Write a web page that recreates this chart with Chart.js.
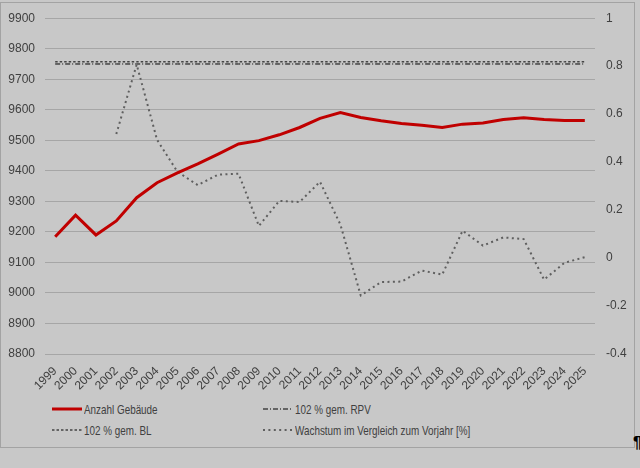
<!DOCTYPE html>
<html>
<head>
<meta charset="utf-8">
<script src="https://cdn.jsdelivr.net/npm/chart.js@4.4.1/dist/chart.umd.min.js"></script>
<style>
  html, body { margin: 0; padding: 0; background: #c8c8c8; }
  #wrap { position: relative; width: 640px; height: 468px; overflow: hidden; }
  #frame { position: absolute; left: 0; top: 2px; width: 633px; height: 444px; border: 1px solid #a3a3a3; }
  #graphCanvas { position: absolute; left: 0; top: 0; }
  .leg { position: absolute; height: 16px; display: flex; align-items: center; white-space: nowrap; }
  .leg svg { margin-right: 2px; }
  .leg span { display: inline-block; font-family: "Liberation Sans", Arial, sans-serif; font-size: 13px;
              color: #404040; transform: scaleX(0.76); transform-origin: left center; }
  #pil { position: absolute; left: 633px; top: 434px; font: bold 16px "Liberation Sans", Arial, sans-serif; color: #000; }
</style>
</head>
<body>
<div id="wrap">
  <div id="frame"></div>
  <canvas id="graphCanvas" width="640" height="400"></canvas>
  <div id="legend"></div>
  <span id="pil">¶</span>
</div>
<script>
// Jahre
const years = ['1999','2000','2001','2002','2003','2004','2005','2006','2007','2008','2009','2010','2011',
               '2012','2013','2014','2015','2016','2017','2018','2019','2020','2021','2022','2023','2024','2025'];

// Anzahl Gebäude (linke Achse)
const gebaeude = [9184, 9255, 9190, 9236, 9312, 9361, 9393, 9423, 9455, 9488, 9499, 9518, 9542,
                  9572, 9591, 9575, 9564, 9555, 9549, 9542, 9553, 9557, 9568, 9574, 9568, 9565, 9565];

// 102 % Linien
const rpv = years.map(() => 9750);
const bl = years.map(() => 9757);

// Wachstum im Vergleich zum Vorjahr [%] (rechte Achse)
const wachstum = [null, null, null, 0.517, 0.807, 0.493, 0.36, 0.304, 0.348, 0.352, 0.134, 0.238, 0.234,
                  0.318, 0.14, -0.156, -0.10, -0.098, -0.052, -0.069, 0.114, 0.052, 0.086, 0.079, -0.09, -0.02, 0.004];

// Achsenbereiche
const leftMin = 8800, leftMax = 9900, leftStep = 100;
const rightMin = -0.4, rightMax = 1, rightStep = 0.2;

const tickFont = { family: '"Liberation Sans", Arial, sans-serif', size: 12 };
const tickColor = '#404040';

const ctx = document.getElementById('graphCanvas').getContext('2d');
const chart = new Chart(ctx, {
    type: 'line',
    data: {
        labels: years,
        datasets: [
            { label: 'Anzahl Gebäude', data: gebaeude, yAxisID: 'y', borderColor: '#c00000',
              borderWidth: 3, borderDash: [], order: 0 },
            { label: '102 % gem. RPV', data: rpv, yAxisID: 'y', borderColor: '#000000',
              borderWidth: 1, borderDash: [5, 2, 1, 2], order: 2 },
            { label: '102 % gem. BL', data: bl, yAxisID: 'y', borderColor: '#000000',
              borderWidth: 1, borderDash: [2.5, 2], order: 3 },
            { label: 'Wachstum im Vergleich zum Vorjahr [%]', data: wachstum, yAxisID: 'y1',
              borderColor: '#5f5f5f', borderWidth: 2, borderDash: [2, 3.4], order: 1 }
        ]
    },
    options: {
        responsive: false,
        animation: false,
        layout: { padding: { top: 16, left: 0, right: 0, bottom: 0 } },
        elements: { point: { radius: 0 }, line: { tension: 0 } },
        plugins: { legend: { display: false }, tooltip: { enabled: false } },
        scales: {
            x: {
                offset: true,
                grid: { display: false },
                border: { display: false },
                ticks: { autoSkip: false, minRotation: 45, maxRotation: 45, font: tickFont, color: tickColor, padding: 2 },
                afterFit: s => { s.height = 46; }
            },
            y: {
                position: 'left',
                min: leftMin, max: leftMax,
                grid: { color: '#a6a6a6', drawTicks: false },
                border: { display: false },
                ticks: { stepSize: leftStep, font: tickFont, color: tickColor, padding: 10,
                         callback: v => String(v) },
                afterFit: s => { s.width = 45; }
            },
            y1: {
                position: 'right',
                min: rightMin, max: rightMax,
                grid: { drawOnChartArea: false, drawTicks: false },
                border: { display: false },
                ticks: { stepSize: rightStep, font: tickFont, color: tickColor, padding: 11,
                         callback: v => String(Math.round(v * 10) / 10) },
                afterFit: s => { s.width = 45; }
            }
        }
    }
});

// Legende (zwei Spalten)
const legPos = [[52, 401], [263, 401], [52, 422], [263, 422]];
const legend = document.getElementById('legend');
chart.data.datasets.forEach((ds, i) => {
    const d = document.createElement('div');
    d.className = 'leg';
    d.style.left = legPos[i][0] + 'px';
    d.style.top = legPos[i][1] + 'px';
    const dash = ds.borderDash.length ? ` stroke-dasharray="${ds.borderDash.join(' ')}"` : '';
    d.innerHTML = `<svg width="30" height="6"><line x1="0" y1="3" x2="30" y2="3" stroke="${ds.borderColor}" stroke-width="${ds.borderWidth}"${dash}/></svg>` +
                  `<span>${ds.label}</span>`;
    legend.appendChild(d);
});
</script>
</body>
</html>
